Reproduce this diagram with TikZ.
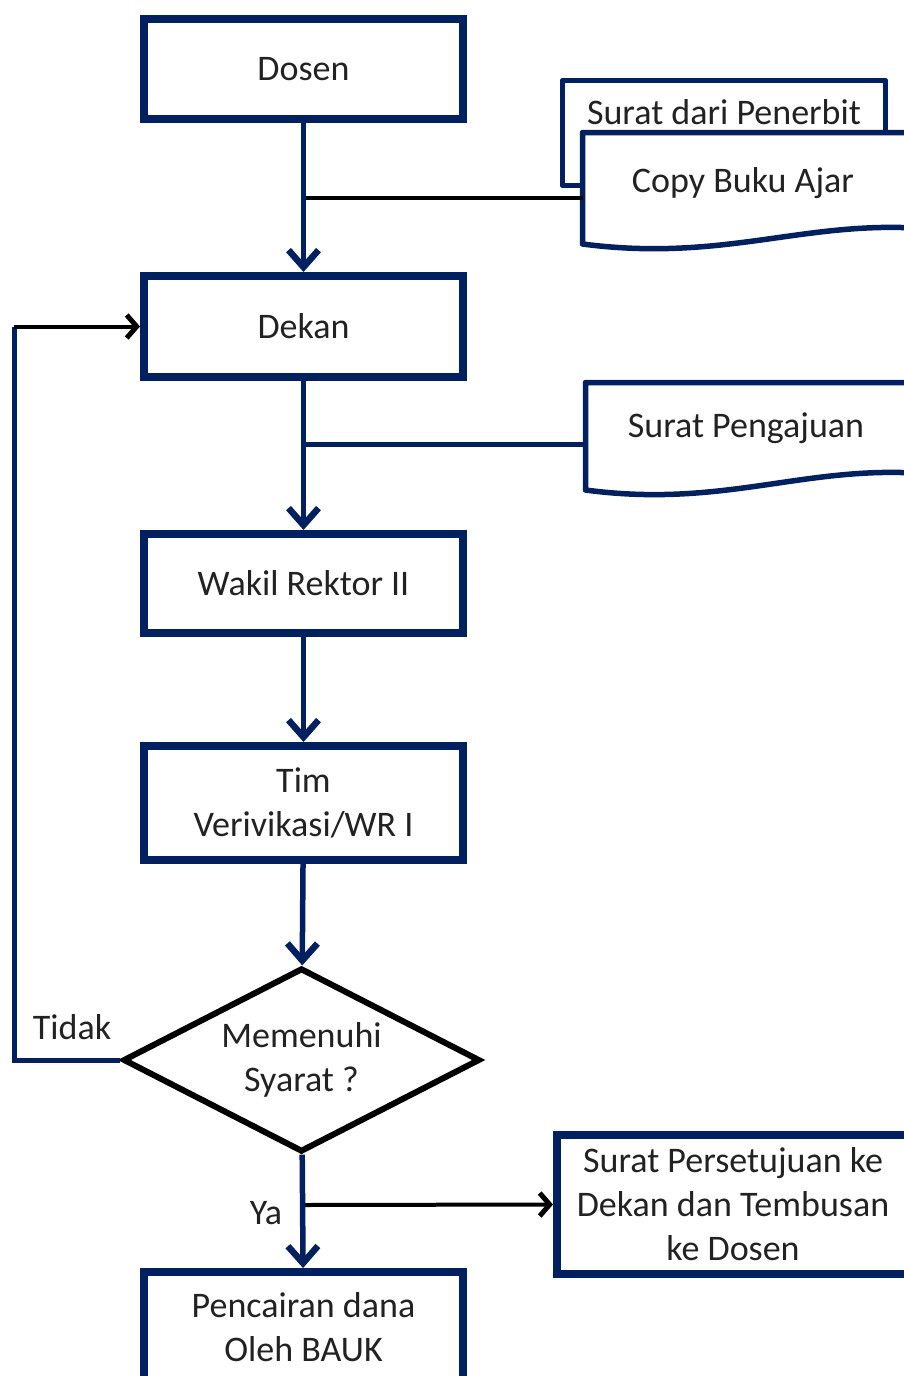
\documentclass[tikz,border=0pt]{standalone}
\usepackage{fontspec}
\setmainfont{Carlito}
\usetikzlibrary{arrows.meta,shapes.geometric}
\definecolor{navy}{HTML}{002060}
\definecolor{txt}{HTML}{222222}
\begin{document}
\begin{tikzpicture}[x=1pt,y=-1pt,
  lbl/.style={text=txt,font=\fontsize{36}{44}\selectfont,align=center,inner sep=0pt},
  box/.style={lbl,draw=navy,line width=8pt,fill=white,minimum width=319pt},
  dia/.style={lbl,diamond,draw=black,line width=6pt,fill=white,minimum width=357pt,minimum height=184pt,aspect=1.94},
  doc/.style={draw=navy,line width=5.5pt,fill=white,line join=round},
  flow/.style={navy,line width=5.5pt,-{Straight Barb[length=17pt,width=30pt,line width=6.5pt]}},
  navyline/.style={navy,line width=5pt},
  blackline/.style={black,line width=4pt},
  blackarrow/.style={black,line width=4pt,-{Straight Barb[length=10pt,width=23pt,line width=5pt]}}
]
\useasboundingbox (0,0) rectangle (904,1376);
\fill[white] (0,0) rectangle (904,1376);
\clip (0,0) rectangle (904,1376);

% process boxes
\node[box,minimum height=100pt] (dosen) at (303.5,69) {Dosen};
\node[box,minimum height=101pt] (dekan) at (303.5,326.5) {Dekan};
\node[box,minimum height=99pt] (wakil) at (303.5,583.5) {Wakil Rektor II};
\node[box,minimum height=114pt] (tim) at (303.5,803) {Tim\\Verivikasi/WR I};
\node[dia] (dec) at (301.5,1060) {Memenuhi\\Syarat ?};
\node[box,minimum height=110pt] (cair) at (303.5,1327) {Pencairan dana\\Oleh BAUK};
\node[box,minimum width=352pt,minimum height=139pt] (setuju) at (733,1204.5) {Surat Persetujuan ke\\Dekan dan Tembusan\\ke Dosen};

% documents
\draw[doc] (562.5,80.5) rectangle (885.5,185.5);
\node[lbl] (penerbit) at (724,112) {Surat dari Penerbit};
\draw[doc] (582.5,132.5) -- (915,132.5) -- (915,228)
  .. controls (800,222) and (720,262) .. (582.5,244) -- cycle;
\node[lbl] (copy) at (743,183) {Copy Buku Ajar};
\draw[doc] (585.5,382.5) -- (915,382.5) -- (915,473)
  .. controls (800,467) and (720,508) .. (585.5,490) -- cycle;
\node[lbl] (peng) at (746,428) {Surat Pengajuan};
\coordinate (copyL) at (582.5,198);
\coordinate (pengL) at (585.5,444);

% connectors
\coordinate (j1) at (303.5,198);
\coordinate (j2) at (303.5,444);
\coordinate (j3) at (303.5,1205);
\coordinate (lb) at (14,1060);
\coordinate (lt) at (14,326.5);

\draw[blackline] (j1) -- (copyL);
\draw[navyline] (j2) -- (pengL);
\draw[flow] (dosen) -- (dekan);
\draw[flow] (dekan) -- (wakil);
\draw[flow] (wakil) -- (tim);
\draw[flow] (tim) -- (dec);
\draw[blackarrow] (j3) -- (setuju.west);
\draw[flow] (dec) -- (cair);
\draw[navyline,line join=miter] (dec.west) -- (lb) -- (lt);
\draw[blackarrow] (lt) -- (dekan.west);

\node[lbl] (tidak) at (72,1027) {Tidak};
\node[lbl] (ya) at (266,1213) {Ya};
\end{tikzpicture}
\end{document}
